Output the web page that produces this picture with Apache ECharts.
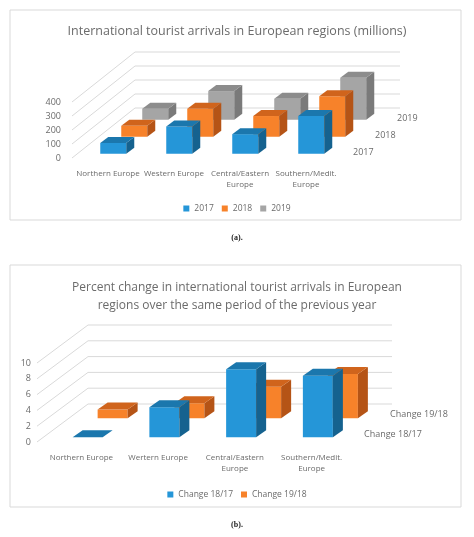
<!DOCTYPE html>
<html>
<head>
<meta charset="utf-8">
<script src="https://cdn.jsdelivr.net/npm/echarts@6/dist/echarts.min.js"></script>
<style>html,body{margin:0;padding:0;background:#fff}#main{width:474px;height:537px}</style>
</head>
<body>
<div id="main"></div>
<script>
// chart (a)
const regions_a = ['Northern Europe', 'Western Europe', 'Central/Eastern\nEurope', 'Southern/Medit.\nEurope'];
const years = ['2017', '2018', '2019'];
const arrivals_2017 = [77, 195, 140, 270];
const arrivals_2018 = [78, 200, 148, 290];
const arrivals_2019 = [79, 205, 150, 300];
const ticks_a = [0, 100, 200, 300, 400];

// chart (b)
const regions_b = ['Northern Europe', 'Wertern Europe', 'Central/Eastern\nEurope', 'Southern/Medit.\nEurope'];
const changes = ['Change 18/17', 'Change 19/18'];
const change_18_17 = [0, 3.8, 8.6, 7.8];
const change_19_18 = [1.1, 1.9, 4.0, 5.6];
const ticks_b = [0, 2, 4, 6, 8, 10];

const colors = {
    blue: ['#2596d8', '#1b77ad', '#15628f'],
    orange: ['#f7822a', '#d0641c', '#b55416'],
    grey: ['#a5a5a5', '#8c8c8c', '#7a7a7a']
};
const txt = '#6b6b6b';

function barRender(row, dep, top, w, c) {
    return function (params, api) {
        let p = api.coord([api.value(0), api.value(1)]);
        let b = api.coord([api.value(0), 0]);
        let ox = (row + 0.25) * dep[0], oy = (row + 0.25) * dep[1];
        let x0 = p[0] - w / 2 + ox, x1 = x0 + w;
        let yt = p[1] + oy, yb = b[1] + oy;
        let tx = top[0], ty = top[1];
        let kids = [];
        if (yb - yt > 0.5) {
            kids.push({type: 'rect', shape: {x: x0, y: yt, width: w, height: yb - yt}, style: {fill: c[0]}});
            kids.push({type: 'polygon', shape: {points: [[x1, yt], [x1 + tx, yt + ty], [x1 + tx, yb + ty], [x1, yb]]}, style: {fill: c[2]}});
        }
        kids.push({type: 'polygon', shape: {points: [[x0, yt], [x1, yt], [x1 + tx, yt + ty], [x0 + tx, yt + ty]]}, style: {fill: c[1]}});
        return {type: 'group', children: kids};
    };
}

function wallRender(depth, wallW, fx) {
    return function (params, api) {
        let cs = params.coordSys;
        let y = api.coord([0, api.value(1)])[1];
        let x0 = cs.x + fx, bx = x0 + depth[0], by = y + depth[1];
        return {
            type: 'group', children: [
                {type: 'line', shape: {x1: x0, y1: y, x2: bx, y2: by}, style: {stroke: '#d9d9d9', lineWidth: 1}},
                {type: 'line', shape: {x1: bx, y1: by, x2: bx + wallW, y2: by}, style: {stroke: '#d9d9d9', lineWidth: 1}}
            ]
        };
    };
}

function rowLabelRender(names, dep, off) {
    return function (params, api) {
        let cs = params.coordSys;
        let i = api.value(1);
        return {
            type: 'text',
            style: {
                text: names[i], x: cs.x + cs.width + off[0] + i * dep[0], y: cs.y + cs.height + off[1] + i * dep[1],
                fill: txt, font: '9px "Open Sans"', verticalAlign: 'middle'
            }
        };
    };
}

const depA = [21, -17], topA = [8, -6];
const depB = [25, -19], topB = [10, -7];

const chart = echarts.init(document.getElementById('main'));
chart.setOption({
    animation: false,
    title: [
        {text: 'International tourist arrivals in European regions (millions)', left: 'center', top: 20,
            textStyle: {color: txt, fontSize: 12.5, fontWeight: 'normal', fontFamily: 'Open Sans'}},
        {text: 'Percent change in international tourist arrivals in European\nregions over the same period of the previous year',
            left: 'center', top: 274, textStyle: {color: txt, fontSize: 12, fontWeight: 'normal', fontFamily: 'Open Sans', lineHeight: 18}}
    ],
    legend: [
        {data: years, top: 199, left: 'center', icon: 'rect', itemWidth: 6, itemHeight: 6, itemGap: 8,
            textStyle: {color: txt, fontSize: 8.5, fontFamily: 'Open Sans'}},
        {data: changes, top: 485, left: 'center', icon: 'rect', itemWidth: 6, itemHeight: 6, itemGap: 8,
            textStyle: {color: txt, fontSize: 8.5, fontFamily: 'Open Sans'}}
    ],
    graphic: [
        {type: 'rect', shape: {x: 10, y: 10, width: 451, height: 210}, style: {fill: 'none', stroke: '#d9d9d9'}},
        {type: 'rect', shape: {x: 10, y: 265, width: 451, height: 242}, style: {fill: 'none', stroke: '#d9d9d9'}},
        {type: 'text', left: 'center', top: 234, style: {text: '(a).', font: 'bold 8px "Liberation Serif"', fill: '#222'}},
        {type: 'text', left: 'center', top: 521, style: {text: '(b).', font: 'bold 8px "Liberation Serif"', fill: '#222'}}
    ],
    grid: [
        {left: 75, right: 135, top: 102, bottom: 379},
        {left: 43, right: 124, top: 363, bottom: 95}
    ],
    xAxis: [
        {type: 'category', gridIndex: 0, data: regions_a, axisLine: {show: false}, axisTick: {show: false},
            axisLabel: {color: txt, fontSize: 8, fontFamily: 'Open Sans', margin: 10, interval: 0, lineHeight: 11}},
        {type: 'category', gridIndex: 1, data: regions_b, axisLine: {show: false}, axisTick: {show: false},
            axisLabel: {color: txt, fontSize: 8, fontFamily: 'Open Sans', margin: 10, interval: 0, lineHeight: 11}}
    ],
    yAxis: [
        {type: 'value', gridIndex: 0, min: 0, max: 400, interval: 100, splitLine: {show: false},
            axisLabel: {color: txt, fontSize: 9, fontFamily: 'Open Sans', margin: 14}},
        {type: 'value', gridIndex: 1, min: 0, max: 10, interval: 2, splitLine: {show: false},
            axisLabel: {color: txt, fontSize: 9, fontFamily: 'Open Sans', margin: 12}}
    ],
    series: [
        {type: 'custom', xAxisIndex: 0, yAxisIndex: 0, z: 1, silent: true,
            data: ticks_a.map(v => [0, v]), renderItem: wallRender([63, -50], 265, -3)},
        {type: 'custom', name: '2019', xAxisIndex: 0, yAxisIndex: 0, z: 3, itemStyle: {color: colors.grey[0]},
            data: arrivals_2019.map((v, i) => [i, v]), renderItem: barRender(2, depA, topA, 26, colors.grey)},
        {type: 'custom', name: '2018', xAxisIndex: 0, yAxisIndex: 0, z: 4, itemStyle: {color: colors.orange[0]},
            data: arrivals_2018.map((v, i) => [i, v]), renderItem: barRender(1, depA, topA, 26, colors.orange)},
        {type: 'custom', name: '2017', xAxisIndex: 0, yAxisIndex: 0, z: 5, itemStyle: {color: colors.blue[0]},
            data: arrivals_2017.map((v, i) => [i, v]), renderItem: barRender(0, depA, topA, 26, colors.blue)},
        {type: 'custom', xAxisIndex: 0, yAxisIndex: 0, z: 6, silent: true,
            data: years.map((y, i) => [0, i]), renderItem: rowLabelRender(years, [22, -17], [14, -6])},

        {type: 'custom', xAxisIndex: 1, yAxisIndex: 1, z: 1, silent: true,
            data: ticks_b.map(v => [0, v]), renderItem: wallRender([51, -38], 304, -6)},
        {type: 'custom', name: 'Change 19/18', xAxisIndex: 1, yAxisIndex: 1, z: 4, itemStyle: {color: colors.orange[0]},
            data: change_19_18.map((v, i) => [i, v]), renderItem: barRender(1, depB, topB, 30, colors.orange)},
        {type: 'custom', name: 'Change 18/17', xAxisIndex: 1, yAxisIndex: 1, z: 5, itemStyle: {color: colors.blue[0]},
            data: change_18_17.map((v, i) => [i, v]), renderItem: barRender(0, depB, topB, 30, colors.blue)},
        {type: 'custom', xAxisIndex: 1, yAxisIndex: 1, z: 6, silent: true,
            data: changes.map((c, i) => [0, i]), renderItem: rowLabelRender(changes, [26, -20], [14, -8])}
    ]
});
</script>
</body>
</html>
